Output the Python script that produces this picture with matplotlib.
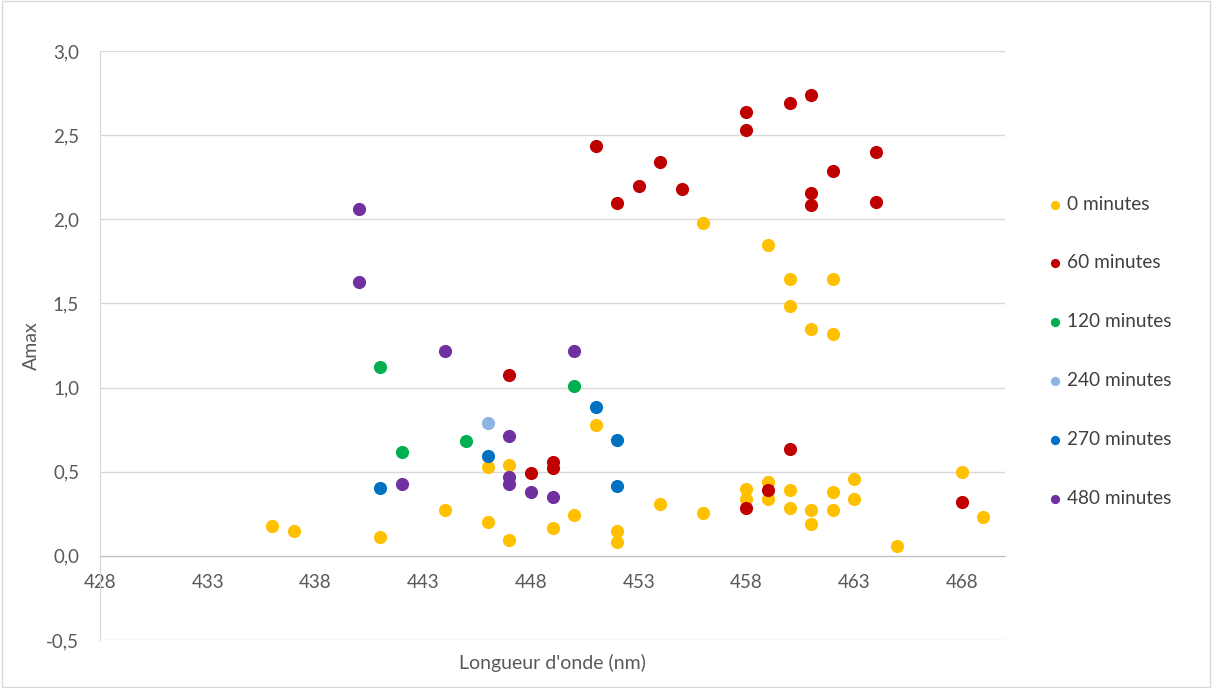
import matplotlib
matplotlib.use("Agg")
import matplotlib.pyplot as plt

# ---- data ----
x0 = [436, 437, 441, 444, 446, 446, 447, 447, 449, 450, 451, 452, 452, 454, 456, 456,
      458, 458, 459, 459, 459, 460, 460, 460, 460, 461, 461, 461, 462, 462, 462, 462,
      463, 463, 465, 468, 469]
y0 = [0.18, 0.15, 0.115, 0.275, 0.20, 0.53, 0.54, 0.095, 0.165, 0.24, 0.78, 0.15, 0.085, 0.31, 0.255, 1.98,
      0.40, 0.34, 0.44, 0.34, 1.85, 1.645, 1.485, 0.39, 0.285, 1.35, 0.27, 0.19, 1.645, 1.32, 0.38, 0.27,
      0.455, 0.34, 0.06, 0.50, 0.23]

x60 = [447, 448, 449, 449, 451, 452, 453, 454, 455, 458, 458, 458, 459, 460, 460, 461, 461, 461,
       462, 464, 464, 468]
y60 = [1.075, 0.49, 0.56, 0.52, 2.435, 2.095, 2.20, 2.34, 2.18, 2.635, 2.53, 0.285, 0.39, 2.69, 0.635,
       2.74, 2.155, 2.085, 2.285, 2.40, 2.10, 0.32]

x120 = [441, 442, 445, 450]
y120 = [1.125, 0.62, 0.68, 1.01]

x240 = [446]
y240 = [0.79]

x270 = [441, 446, 451, 452, 452]
y270 = [0.405, 0.595, 0.885, 0.69, 0.415]

x480 = [440, 440, 442, 444, 447, 447, 447, 448, 449, 450]
y480 = [2.06, 1.625, 0.425, 1.22, 0.71, 0.47, 0.425, 0.38, 0.35, 1.22]

labels = ["0 minutes", "60 minutes", "120 minutes", "240 minutes", "270 minutes", "480 minutes"]
colors = ["#FFC000", "#C00000", "#00B050", "#8EB4E3", "#0070C0", "#7030A0"]
xticks = [428, 433, 438, 443, 448, 453, 458, 463, 468]
yticks = [-0.5, 0.0, 0.5, 1.0, 1.5, 2.0, 2.5, 3.0]

plt.rcParams['font.family'] = ['Lato', 'DejaVu Sans']

fig = plt.figure(figsize=(12.12, 6.88), dpi=100)
ax = fig.add_axes([100/1212, 1-640/688, (1005-100)/1212, (640-51)/688])

series = [(x0, y0), (x60, y60), (x120, y120), (x240, y240), (x270, y270), (x480, y480)]
for (xs, ys), lab, col in zip(series, labels, colors):
    ax.scatter(xs, ys, s=90, color=col, label=lab, zorder=3, linewidths=0)

ax.set_xlim(428, 470)
ax.set_ylim(-0.5, 3.0)
ax.set_xticks(xticks)
ax.set_yticks(yticks)
ax.set_yticklabels([f"{v:.1f}".replace(".", ",") for v in yticks])
ax.grid(axis='y', color='#D9D9D9', linewidth=1)
ax.set_axisbelow(True)
for s in ['top', 'right']:
    ax.spines[s].set_visible(False)
ax.spines['bottom'].set_position(('data', 0))
ax.spines['bottom'].set_color('#BFBFBF')
ax.spines['left'].set_color('#D9D9D9')
ax.tick_params(length=0, labelsize=13.5, labelcolor='#595959')
ax.tick_params(axis='x', pad=13)
ax.tick_params(axis='y', pad=15)

ax.set_xlabel("Longueur d'onde (nm)", fontsize=14, color='#595959', labelpad=0)
ax.xaxis.set_label_coords(0.5, -0.024)
ax.set_ylabel("Amax", fontsize=14, color='#595959')
ax.yaxis.set_label_coords(-0.066, 0.5)

leg = fig.legend(loc='upper left', bbox_to_anchor=(1026/1212, 1-186/688), frameon=False,
                 labelspacing=2.2, handletextpad=-0.35, markerscale=0.7, fontsize=13.7,
                 labelcolor='#404040', borderpad=0)

fig.patches.append(plt.Rectangle((0.002, 0.002), 0.996, 0.996, transform=fig.transFigure,
                                 fill=False, edgecolor='#D9D9D9', linewidth=1))
fig.savefig("out.png", dpi=100)
